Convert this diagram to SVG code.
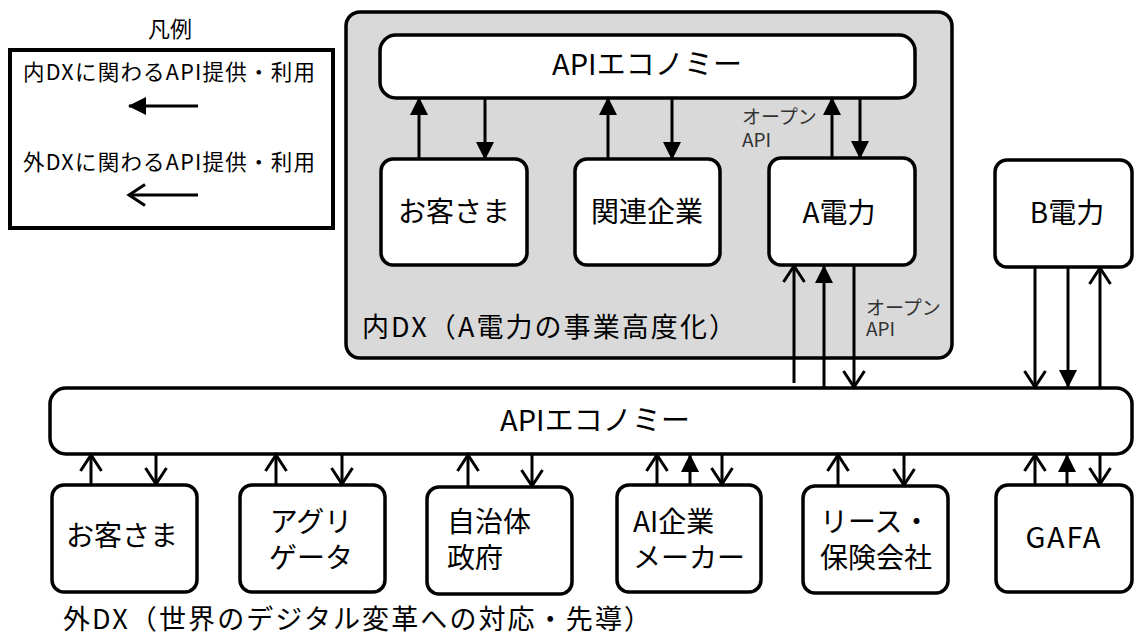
<svg xmlns="http://www.w3.org/2000/svg" width="1135" height="637" viewBox="0 0 1135 637">
<style>
text{font-family:"Noto Sans CJK JP","Noto Sans",sans-serif;fill:#000}
.box{fill:#fff;stroke:#000;stroke-width:3.5}
.lbl{font-size:28px}
.mid{text-anchor:middle}
.small{font-size:19px;fill:#333}
.leg{font-size:21.5px}
.cap{font-size:27px}
.ln{stroke:#000;stroke-width:3;fill:none}
.f{marker-end:url(#mf)}
.o{marker-end:url(#mo)}
</style>
<defs>
<marker id="mf" viewBox="0 0 18 18" refX="17" refY="9" markerWidth="18" markerHeight="18" markerUnits="userSpaceOnUse" orient="auto">
<path d="M0,0 L18,9 L0,18 Z" fill="#000"/>
</marker>
<marker id="mo" viewBox="0 0 20 24" refX="17" refY="12" markerWidth="20" markerHeight="24" markerUnits="userSpaceOnUse" orient="auto">
<path d="M1,1.5 L17,12 L1,22.5" fill="none" stroke="#000" stroke-width="3"/>
</marker>
</defs>

<g id="legend">
<text class="mid" x="170" y="37" font-size="22">凡例</text>
<rect x="10" y="50" width="323" height="178" fill="#fff" stroke="#000" stroke-width="4"/>
<text class="leg" x="23" y="80" textLength="292" lengthAdjust="spacing">内DXに関わるAPI提供・利用</text>
<line class="ln f" x1="198" y1="106" x2="129" y2="106"/>
<text class="leg" x="23" y="170" textLength="292" lengthAdjust="spacing">外DXに関わるAPI提供・利用</text>
<line class="ln o" x1="198" y1="195" x2="129" y2="195"/>
</g>

<g id="inner-dx">
<rect x="346" y="12" width="606" height="346" rx="14" fill="#d9d9d9" stroke="#000" stroke-width="3.5"/>
<text class="cap" x="362" y="337" textLength="374" lengthAdjust="spacing">内DX（A電力の事業高度化）</text>
</g>

<g id="api-economy-inner">
<rect class="box" x="380" y="35" width="535" height="63" rx="16"/>
<text class="mid" x="647" y="75" font-size="29" textLength="190" lengthAdjust="spacing">APIエコノミー</text>
</g>

<g id="customer-inner">
<rect class="box" x="381" y="159" width="146" height="106" rx="12"/>
<text class="lbl mid" x="454" y="222">お客さま</text>
</g>

<g id="affiliates">
<rect class="box" x="575" y="159" width="145" height="106" rx="12"/>
<text class="lbl mid" x="647" y="222">関連企業</text>
</g>

<g id="a-power">
<rect class="box" x="769" y="158" width="146" height="107" rx="12"/>
<text class="lbl mid" x="839" y="223">A電力</text>
</g>

<g id="b-power">
<rect class="box" x="995" y="160" width="137" height="107" rx="12"/>
<text class="lbl mid" x="1067" y="223">B電力</text>
</g>

<g id="api-economy-outer">
<rect class="box" x="50" y="388" width="1082" height="66" rx="16"/>
<text class="mid" x="595" y="431" font-size="29" textLength="190" lengthAdjust="spacing">APIエコノミー</text>
</g>

<g id="customer-outer">
<rect class="box" x="52" y="485" width="145" height="107" rx="12"/>
<text class="lbl mid" x="122" y="546">お客さま</text>
</g>

<g id="aggregator">
<rect class="box" x="240" y="485" width="145" height="107" rx="12"/>
<text class="lbl mid"><tspan x="311" y="532">アグリ</tspan><tspan x="311" y="568">ゲータ</tspan></text>
</g>

<g id="government">
<rect class="box" x="427" y="487" width="145" height="107" rx="12"/>
<text class="lbl"><tspan x="447" y="532">自治体</tspan><tspan x="447" y="568">政府</tspan></text>
</g>

<g id="ai-maker">
<rect class="box" x="617" y="485" width="144" height="107" rx="12"/>
<text class="lbl"><tspan x="633" y="532">AI企業</tspan><tspan x="633" y="568">メーカー</tspan></text>
</g>

<g id="lease-insurance">
<rect class="box" x="803" y="486" width="145" height="107" rx="12"/>
<text class="lbl"><tspan x="820" y="532">リース・</tspan><tspan x="820" y="568">保険会社</tspan></text>
</g>

<g id="gafa">
<rect class="box" x="996" y="485" width="136" height="107" rx="12"/>
<text class="mid" x="1063" y="548" font-size="29" textLength="75" lengthAdjust="spacing">GAFA</text>
</g>

<g id="labels">
<text class="small"><tspan x="742" y="124">オープン</tspan><tspan x="742" y="147">API</tspan></text>
<text class="small"><tspan x="866" y="315">オープン</tspan><tspan x="866" y="336">API</tspan></text>
<text class="cap" x="63" y="629" textLength="588" lengthAdjust="spacing">外DX（世界のデジタル変革への対応・先導）</text>
</g>

<g id="connectors">
<line class="ln f" x1="419" y1="159" x2="419" y2="98"/>
<line class="ln f" x1="485" y1="98" x2="485" y2="159"/>
<line class="ln f" x1="608" y1="159" x2="608" y2="98"/>
<line class="ln f" x1="672" y1="98" x2="672" y2="159"/>
<line class="ln f" x1="832" y1="158" x2="832" y2="98"/>
<line class="ln f" x1="860" y1="98" x2="860" y2="158"/>
<line class="ln o" x1="794" y1="383" x2="794" y2="266"/>
<line class="ln f" x1="824" y1="388" x2="824" y2="266"/>
<line class="ln o" x1="854" y1="266" x2="854" y2="387"/>
<line class="ln o" x1="1035" y1="268" x2="1035" y2="387"/>
<line class="ln f" x1="1068" y1="268" x2="1068" y2="387"/>
<line class="ln o" x1="1100" y1="387" x2="1100" y2="268"/>
<line class="ln o" x1="91" y1="484" x2="91" y2="455"/>
<line class="ln o" x1="156" y1="455" x2="156" y2="484"/>
<line class="ln o" x1="276" y1="484" x2="276" y2="455"/>
<line class="ln o" x1="342" y1="455" x2="342" y2="484"/>
<line class="ln o" x1="468" y1="486" x2="468" y2="455"/>
<line class="ln o" x1="532" y1="455" x2="532" y2="486"/>
<line class="ln o" x1="657" y1="484" x2="657" y2="455"/>
<line class="ln f" x1="690" y1="484" x2="690" y2="455"/>
<line class="ln o" x1="722" y1="455" x2="722" y2="484"/>
<line class="ln o" x1="838" y1="485" x2="838" y2="455"/>
<line class="ln o" x1="904" y1="455" x2="904" y2="485"/>
<line class="ln o" x1="1035" y1="484" x2="1035" y2="455"/>
<line class="ln f" x1="1067" y1="484" x2="1067" y2="455"/>
<line class="ln o" x1="1100" y1="455" x2="1100" y2="484"/>
</g>
</svg>
